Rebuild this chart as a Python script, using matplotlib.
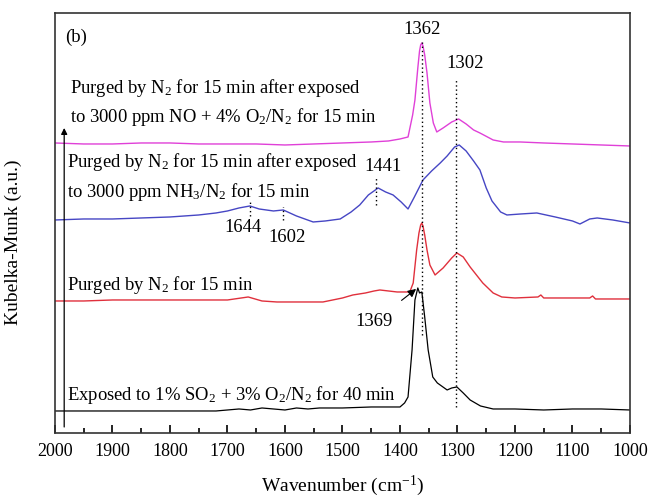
import numpy as np
import matplotlib
matplotlib.use('Agg')
import matplotlib.pyplot as plt
from matplotlib.ticker import MultipleLocator

plt.rcParams['font.family'] = ['Liberation Serif', 'DejaVu Serif']
plt.rcParams['mathtext.fontset'] = 'custom'
plt.rcParams['mathtext.rm'] = 'Liberation Serif'
plt.rcParams['mathtext.it'] = 'Liberation Serif:italic'

"""
Spectra read off the picture (wavenumber in cm-1, intensity in arbitrary units, offsets included)
"""
wn_no = [2000, 1950, 1900, 1850, 1800, 1750, 1700, 1650, 1600, 1550, 1500, 1450, 1420, 1400,
         1386, 1378, 1374, 1369, 1366, 1364, 1362, 1360, 1357, 1353, 1348, 1342, 1336, 1325,
         1310, 1298, 1285, 1272, 1261, 1238, 1220, 1191, 1150, 1100, 1050, 1000]
km_no = [290, 289, 289, 290, 290, 289, 289, 289, 288, 289, 290, 291, 292, 294,
         296, 318, 333, 365, 382, 388, 390, 387, 378, 360, 330, 310, 301, 305,
         311, 314, 309, 303, 300, 293, 291, 291, 290, 289, 288, 287]

wn_nh3 = [2000, 1950, 1900, 1850, 1800, 1750, 1720, 1700, 1680, 1661, 1645, 1620, 1603, 1580,
          1551, 1530, 1504, 1485, 1470, 1455, 1438, 1425, 1412, 1398, 1386, 1375, 1360, 1345,
          1330, 1318, 1305, 1297, 1285, 1272, 1261, 1250, 1240, 1225, 1214, 1190, 1162, 1130,
          1100, 1087, 1070, 1057, 1030, 1000]
km_nh3 = [213, 214, 214, 215, 216, 218, 220, 222, 225, 227, 224, 222, 223, 217,
          211, 212, 214, 221, 228, 238, 245, 241, 238, 231, 224, 236, 253, 262,
          270, 277, 286, 288, 282, 272, 263, 245, 232, 221, 218, 219, 220, 216,
          212, 209, 214, 215, 213, 210]

wn_n2 = [2000, 1950, 1900, 1850, 1800, 1750, 1700, 1664, 1640, 1614, 1580, 1534, 1500, 1482,
         1460, 1445, 1435, 1420, 1405, 1383, 1377, 1371, 1367, 1364, 1362, 1360, 1357, 1353,
         1348, 1339, 1325, 1310, 1301, 1290, 1278, 1256, 1238, 1223, 1200, 1160, 1155, 1150,
         1100, 1070, 1065, 1060, 1000]
km_n2 = [132, 132, 133, 133, 133, 133, 133, 136, 132, 131, 131, 131, 135, 138,
         140, 142, 143, 142, 141, 141, 150, 183, 200, 208, 210, 207, 198, 183,
         168, 158, 165, 175, 180, 176, 166, 150, 140, 136, 135, 136, 138, 135,
         135, 135, 137, 134, 134]

wn_so2 = [2000, 1900, 1800, 1720, 1700, 1680, 1660, 1640, 1620, 1600, 1580, 1560, 1540, 1500,
          1450, 1420, 1400, 1392, 1386, 1379, 1374, 1369, 1366, 1362, 1357, 1351, 1343, 1335,
          1318, 1310, 1301, 1290, 1278, 1260, 1238, 1200, 1150, 1100, 1050, 1000]
km_so2 = [22, 22, 22, 22, 23, 24, 23, 25, 24, 23, 25, 24, 25, 25,
          26, 26, 26, 30, 36, 83, 133, 145, 140, 141, 116, 83, 56, 50,
          43, 45, 46, 40, 33, 27, 24, 24, 23, 24, 24, 23]

# band positions marked with dotted lines: (wavenumber, low, high)
BAND_WN = [1362, 1302, 1441, 1660, 1603]
BAND_LOW = [98, 26, 228, 217, 213]
BAND_HIGH = [391, 353, 256, 233, 226]

"""
Plot
"""
fig = plt.figure(figsize=(6.5, 4.99), dpi=100)
ax = fig.add_axes([0.0846, 0.1323, 0.8846, 0.8417])

ax.plot(wn_no, km_no, color='#e040d8', lw=1.0)
ax.plot(wn_nh3, km_nh3, color='#4646c4', lw=1.0)
ax.plot(wn_n2, km_n2, color='#e0303c', lw=1.0)
ax.plot(wn_so2, km_so2, color='black', lw=0.9)

for w, lo, hi in zip(BAND_WN, BAND_LOW, BAND_HIGH):
    ax.plot([w, w], [lo, hi], color='black', lw=1.0, ls=(0, (1, 2)))

fs = 13.4
ax.text(1983, 396, '(b)', fontsize=fs, va='center')
ax.text(1974, 345, 'Purged by N$_2$ for 15 min after exposed', fontsize=fs, va='center')
ax.text(1974, 316, 'to 3000 ppm NO + 4% O$_2$/N$_2$ for 15 min', fontsize=fs, va='center')
ax.text(1979, 271, 'Purged by N$_2$ for 15 min after exposed', fontsize=fs, va='center')
ax.text(1979, 241, 'to 3000 ppm NH$_3$/N$_2$ for 15 min', fontsize=fs, va='center')
ax.text(1979, 148, 'Purged by N$_2$ for 15 min', fontsize=fs, va='center')
ax.text(1979, 38, 'Exposed to 1% SO$_2$ + 3% O$_2$/N$_2$ for 40 min', fontsize=fs, va='center')

ax.text(1673, 205, '1644', fontsize=fs, ha='center', va='center')
ax.text(1597, 195, '1602', fontsize=fs, ha='center', va='center')
ax.text(1430, 266, '1441', fontsize=fs, ha='center', va='center')
ax.text(1362, 403, '1362', fontsize=fs, ha='center', va='center')
ax.text(1287, 369, '1302', fontsize=fs, ha='center', va='center')

ax.annotate('1369', xy=(1372, 144), xytext=(1445, 111), fontsize=fs, ha='center', va='center',
            arrowprops=dict(arrowstyle='-|>', color='black', lw=0.8, mutation_scale=12,
                            shrinkA=12, shrinkB=0))

# intensity arrow along the left side
ax.annotate('', xy=(1984, 305), xytext=(1984, 6),
            arrowprops=dict(arrowstyle='-|>', color='black', lw=0.9, mutation_scale=9,
                            shrinkA=0, shrinkB=0))

ax.set_xlim(2000, 1000)
ax.set_ylim(0, 420)
ax.xaxis.set_major_locator(MultipleLocator(100))
ax.xaxis.set_minor_locator(MultipleLocator(50))
ax.tick_params(axis='x', which='major', direction='in', length=6, width=1.2, labelsize=13, pad=7)
ax.tick_params(axis='x', which='minor', direction='in', length=3.5, width=1.2)
ax.set_yticks([])
for s in ax.spines.values():
    s.set_linewidth(1.2)
    s.set_color('#333333')

ax.set_xlabel('Wavenumber (cm$^{-1}$)', fontsize=14, labelpad=10)
ax.set_ylabel('Kubelka-Munk (a.u.)', fontsize=14)
ax.yaxis.set_label_coords(-0.058, 0.455)

plt.savefig('out.png', dpi=100)
